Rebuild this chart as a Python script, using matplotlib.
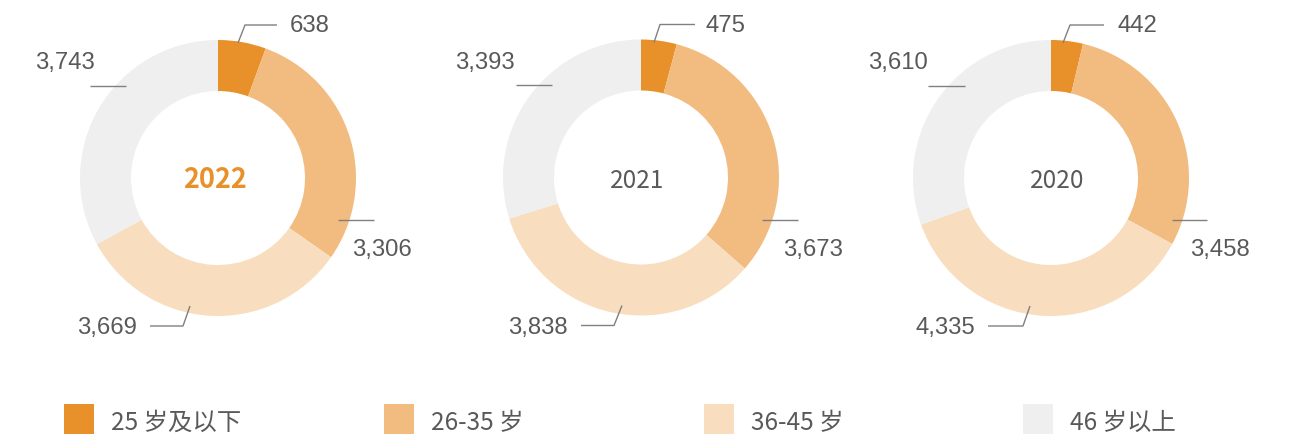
import matplotlib
matplotlib.use('Agg')
import matplotlib.pyplot as plt
from matplotlib.patches import Rectangle

# ---------------- data ----------------
years = ['2022', '2021', '2020']
categories = ['25 岁及以下', '26-35 岁', '36-45 岁', '46 岁以上']
values_2022 = [638, 3306, 3669, 3743]
values_2021 = [475, 3673, 3838, 3393]
values_2020 = [442, 3458, 4335, 3610]
series = [values_2022, values_2021, values_2020]

# ---------------- style ----------------
colors = ['#E8912B', '#F2BC80', '#F8DDBF', '#EFEFEF']
TEXT = '#595959'
LINE = '#808080'
NUM_FONT = ['Liberation Sans', 'DejaVu Sans']
CJK_FONT = ['Noto Sans CJK SC', 'DejaVu Sans']

W, H = 1290, 436
fig = plt.figure(figsize=(W / 100, H / 100), dpi=100)
ax = fig.add_axes([0, 0, 1, 1])

centers = [(218, 178), (641, 177.5), (1051, 178)]
R = 138
RING = 51

# label layout (pixel offsets from donut centre): leader polyline, text anchor
layouts = [
    [([(20, -135), (27, -153), (59, -153)], (72, -146, 'left')),
     ([(120, 42), (156, 42)], (134, 78, 'left')),
     ([(-28, 128), (-35, 148), (-68, 148)], (-81, 156, 'right')),
     ([(-92, -92), (-128, -92)], (-123, -109, 'right'))],
    [([(13, -135), (19, -153), (54, -153)], (64, -146, 'left')),
     ([(121, 42), (157, 42)], (142, 78, 'left')),
     ([(-19, 128), (-27, 148), (-60, 148)], (-73, 156, 'right')),
     ([(-89, -92), (-125, -92)], (-126, -109, 'right'))],
    [([(12, -135), (19, -153), (53, -153)], (66, -146, 'left')),
     ([(121, 42), (156, 42)], (139, 78, 'left')),
     ([(-21, 128), (-28, 148), (-63, 148)], (-76, 156, 'right')),
     ([(-86, -92), (-123, -92)], (-123, -109, 'right'))],
]
year_dx = [-3, -3.5, 6]

for i, (vals, (cx, cy)) in enumerate(zip(series, centers)):
    # y axis is inverted (pixel coords): startangle 270 = top, ccw in data = clockwise on screen
    ax.pie(vals, colors=colors, radius=R, center=(cx, cy), startangle=270,
           counterclock=True,
           wedgeprops=dict(width=RING, edgecolor='none', linewidth=0))
    for v, (pts, (tx, ty, ha)) in zip(vals, layouts[i]):
        xs = [cx + p[0] for p in pts]
        ys = [cy + p[1] for p in pts]
        ax.plot(xs, ys, color=LINE, lw=1.0, solid_capstyle='butt')
        ax.text(cx + tx, cy + ty, f'{v:,}', ha=ha, va='baseline',
                fontsize=17.2, color=TEXT, family=NUM_FONT)
    bold = i == 0
    ax.text(cx + year_dx[i], cy + 10, years[i], ha='center', va='baseline',
            fontsize=19.5 if bold else 17.5, family=CJK_FONT,
            fontweight='bold' if bold else 'normal',
            color=colors[0] if bold else TEXT)

# ---------------- legend ----------------
leg_x = [64, 384, 704, 1023]
for x, lab, col in zip(leg_x, categories, colors):
    ax.add_patch(Rectangle((x, 404), 30, 30, facecolor=col, edgecolor='none'))
    ax.text(x + 47, 430, lab, ha='left', va='baseline', fontsize=17.6,
            color=TEXT, family=CJK_FONT)

ax.set_xlim(0, W)
ax.set_ylim(H, 0)
ax.set_aspect('equal')
ax.axis('off')

fig.savefig('out.png', dpi=100)
